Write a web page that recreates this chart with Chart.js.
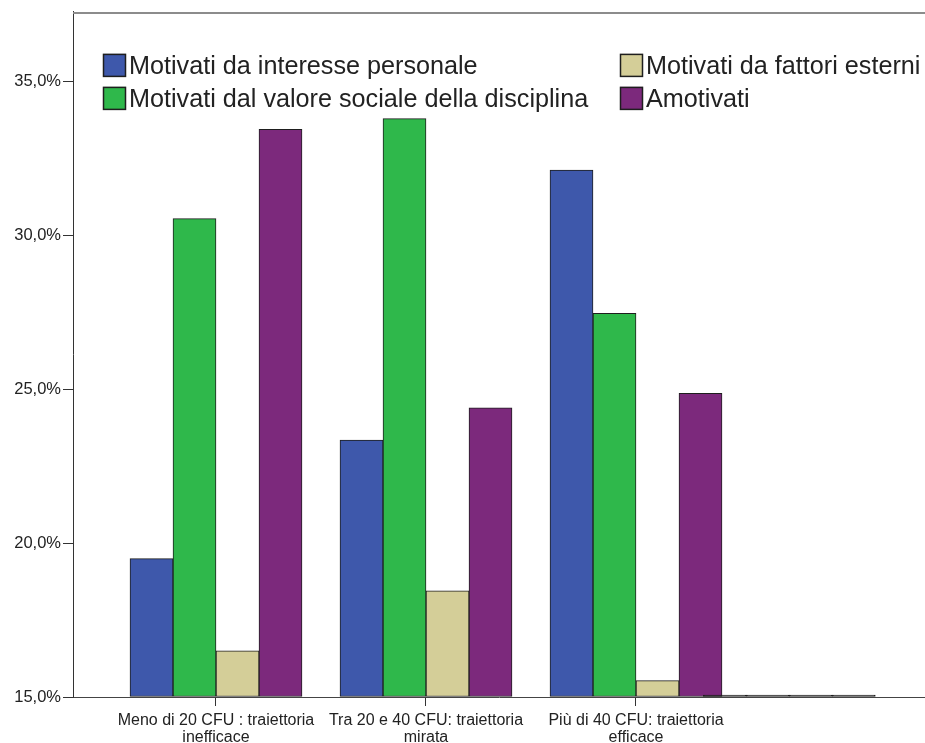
<!DOCTYPE html>
<html lang="it">
<head>
<meta charset="utf-8">
<title>Motivazione e traiettoria CFU</title>
<script src="https://cdn.jsdelivr.net/npm/chart.js@4/dist/chart.umd.min.js"></script>
<style>
  html, body { margin: 0; padding: 0; background: #ffffff; }
  #wrap { position: relative; width: 925px; height: 743px; }
</style>
</head>
<body>
<div id="wrap"><canvas id="chart"></canvas></div>
<script>
// Categories (tick labels) and their positions on the horizontal axis
const categoryLabels = [
  ["Meno di 20 CFU : traiettoria", "inefficace"],
  ["Tra 20 e 40 CFU: traiettoria", "mirata"],
  ["Più di 40 CFU: traiettoria", "efficace"],
  ""
];
const categoryPos = [1, 2, 3, 3.73];

// Series names
const seriesNames = [
  "Motivati da interesse personale",
  "Motivati dal valore sociale della disciplina",
  "Motivati da fattori esterni",
  "Amotivati"
];

// Percentages per category (last category is empty, sits on the axis floor)
const interessePersonale = [19.5, 23.35, 32.13, 15];
const valoreSociale      = [30.55, 33.8, 27.47, 15];
const fattoriEsterni     = [16.5, 18.45, 15.53, 15];
const amotivati          = [33.45, 24.4, 24.87, 15];

// Value-axis ticks
const yTicks = [15, 20, 25, 30, 35];
const yMin = 15, yMax = 37.27;

const seriesValues = [interessePersonale, valoreSociale, fattoriEsterni, amotivati];
const seriesColors = ["#3e58ab", "#2fb84b", "#d4ce98", "#7c297c"];
const edgeColor = "#1e1e1e";
const textColor = "#222222";

const datasets = seriesNames.map((name, s) => ({
  label: name,
  data: seriesValues[s].map((v, i) => ({ x: categoryPos[i], y: v })),
  backgroundColor: (c) => (c.raw && c.raw.y <= yMin ? edgeColor : seriesColors[s]),
  borderColor: edgeColor,
  borderWidth: 1,
  borderSkipped: false,
  barThickness: 43,
  base: yMin,
  minBarLength: 2
}));

// Frame line along the top of the plot and the two-column legend
const framePlugin = {
  id: "frameAndLegend",
  afterDraw(chart) {
    const { ctx, chartArea: a } = chart;
    ctx.save();
    ctx.strokeStyle = "#8c8c8c";
    ctx.lineWidth = 2;
    ctx.beginPath();
    ctx.moveTo(a.left, a.top + 1);
    ctx.lineTo(a.right, a.top + 1);
    ctx.stroke();

    const box = 23;
    const cols = [a.left + 30, a.left + 547];
    const rows = [a.top + 42, a.top + 75];
    ctx.font = "25.2px 'Liberation Sans', Arial, sans-serif";
    ctx.textBaseline = "middle";
    ctx.textAlign = "left";
    chart.data.datasets.forEach((ds, i) => {
      const x = cols[Math.floor(i / 2)];
      const y = rows[i % 2];
      ctx.fillStyle = seriesColors[i];
      ctx.fillRect(x, y, box, box);
      ctx.strokeStyle = edgeColor;
      ctx.lineWidth = 1.5;
      ctx.strokeRect(x + 0.5, y + 0.5, box - 1, box - 1);
      ctx.fillStyle = textColor;
      ctx.fillText(ds.label, x + box + 3, y + box / 2 + 2);
    });
    ctx.restore();
  }
};

new Chart(document.getElementById("chart"), {
  type: "bar",
  data: { datasets },
  plugins: [framePlugin],
  options: {
    responsive: true,
    maintainAspectRatio: false,
    animation: false,
    layout: { padding: { top: 11, right: 0, left: 0, bottom: 0 } },
    plugins: {
      legend: { display: false },
      tooltip: { enabled: false }
    },
    scales: {
      x: {
        type: "linear",
        offset: false,
        min: 0.31905,
        max: 4.3762,
        afterBuildTicks: (scale) => {
          scale.ticks = categoryLabels
            .map((l, i) => ({ value: categoryPos[i], label: l }))
            .filter((t) => t.label !== "");
        },
        afterFit: (scale) => { scale.height = 46; },
        grid: {
          display: true,
          drawOnChartArea: false,
          drawTicks: true,
          tickLength: 9,
          tickColor: "#333333",
          offset: false
        },
        border: { display: true, color: "#444444", width: 1 },
        ticks: {
          autoSkip: false,
          maxRotation: 0,
          minRotation: 0,
          padding: 6,
          color: textColor,
          font: { family: "'Liberation Sans', Arial, sans-serif", size: 16, lineHeight: 1.05 },
          callback: (value) => {
            const i = categoryPos.indexOf(value);
            return i >= 0 ? categoryLabels[i] : "";
          }
        }
      },
      y: {
        min: yMin,
        max: yMax,
        afterBuildTicks: (scale) => {
          scale.ticks = yTicks.map((v) => ({ value: v }));
        },
        afterFit: (scale) => { scale.width = 73; },
        grid: {
          display: true,
          drawOnChartArea: false,
          drawTicks: true,
          tickLength: 10,
          tickColor: "#333333"
        },
        border: { display: true, color: "#333333", width: 1 },
        ticks: {
          padding: 2,
          color: textColor,
          font: { family: "'Liberation Sans', Arial, sans-serif", size: 16.5 },
          callback: (v) => v.toFixed(1).replace(".", ",") + "%"
        }
      }
    }
  }
});
</script>
</body>
</html>
